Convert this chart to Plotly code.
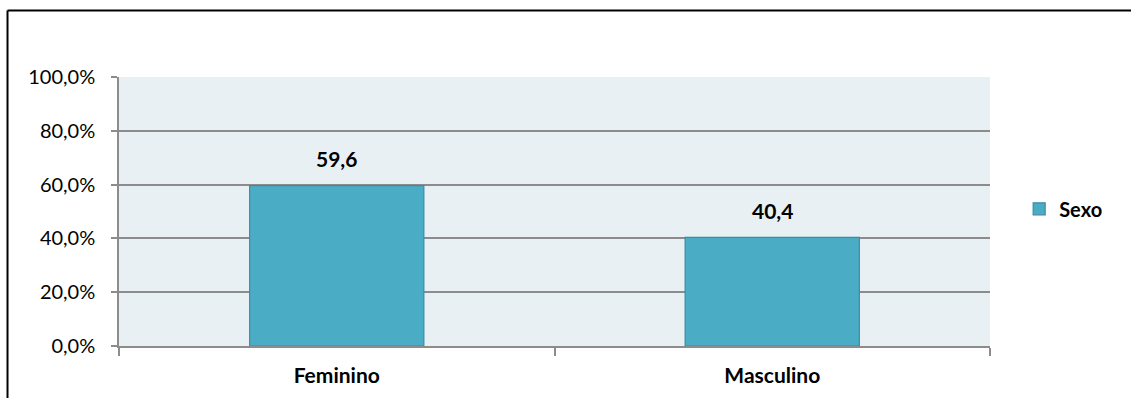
import plotly.graph_objects as go

categories = ["Feminino", "Masculino"]
values = [59.6, 40.4]
series_name = "Sexo"
y_tick_values = [0, 20, 40, 60, 80, 100]
y_tick_labels = [f"{v:.1f}%".replace(".", ",") for v in y_tick_values]

FONT = "Lato"
BAR_COLOR = "#4BACC6"
BAR_EDGE = "#3B8CA2"
GRID = "#8C8C8C"

fig = go.Figure()
fig.add_trace(go.Bar(
    x=categories, y=values, name=series_name,
    marker=dict(color=BAR_COLOR, line=dict(color=BAR_EDGE, width=1.2)),
    width=0.4, showlegend=True,
))

for c, v in zip(categories, values):
    fig.add_annotation(
        x=c, y=v, text="<b>" + f"{v:.1f}".replace(".", ",") + "</b>",
        showarrow=False, yanchor="middle", yshift=27,
        font=dict(family=FONT, size=21, color="#000000"),
    )

fig.update_layout(
    width=1131, height=398,
    margin=dict(l=119, r=141, t=77, b=52),
    paper_bgcolor="white", plot_bgcolor="#E8F0F3",
    separators=",.",
    font=dict(family=FONT, color="#000000"),
    bargap=0.6,
    legend=dict(
        x=1.0335, y=0.51, xanchor="left", yanchor="middle",
        font=dict(family=FONT, size=20, color="#000000", weight="bold"),
        bgcolor="rgba(0,0,0,0)",
    ),
    shapes=[
        dict(type="line", xref="paper", yref="paper", x0=-0.128, x1=-0.128, y0=-0.5, y1=1.2472,
             line=dict(color="#000000", width=2)),
        dict(type="line", xref="paper", yref="paper", x0=-0.128, x1=1.3, y0=1.2472, y1=1.2472,
             line=dict(color="#000000", width=2)),
    ],
)

fig.update_xaxes(
    type="category", showline=True, linecolor=GRID, linewidth=2,
    ticks="outside", ticklen=8, tickcolor=GRID, tickwidth=2,
    tickson="boundaries", showgrid=False,
    tickfont=dict(family=FONT, size=21, color="#000000", weight="bold"),
    ticklabelstandoff=10,
)
fig.update_yaxes(
    range=[0, 100], tickmode="array", tickvals=y_tick_values, ticktext=y_tick_labels,
    showline=True, linecolor=GRID, linewidth=1.5,
    ticks="outside", ticklen=6, tickcolor=GRID, tickwidth=1.5,
    showgrid=True, gridcolor=GRID, gridwidth=1.5, zeroline=False,
    tickfont=dict(family=FONT, size=20, color="#000000"),
    ticklabelstandoff=12,
)

fig.write_html("out.html")
